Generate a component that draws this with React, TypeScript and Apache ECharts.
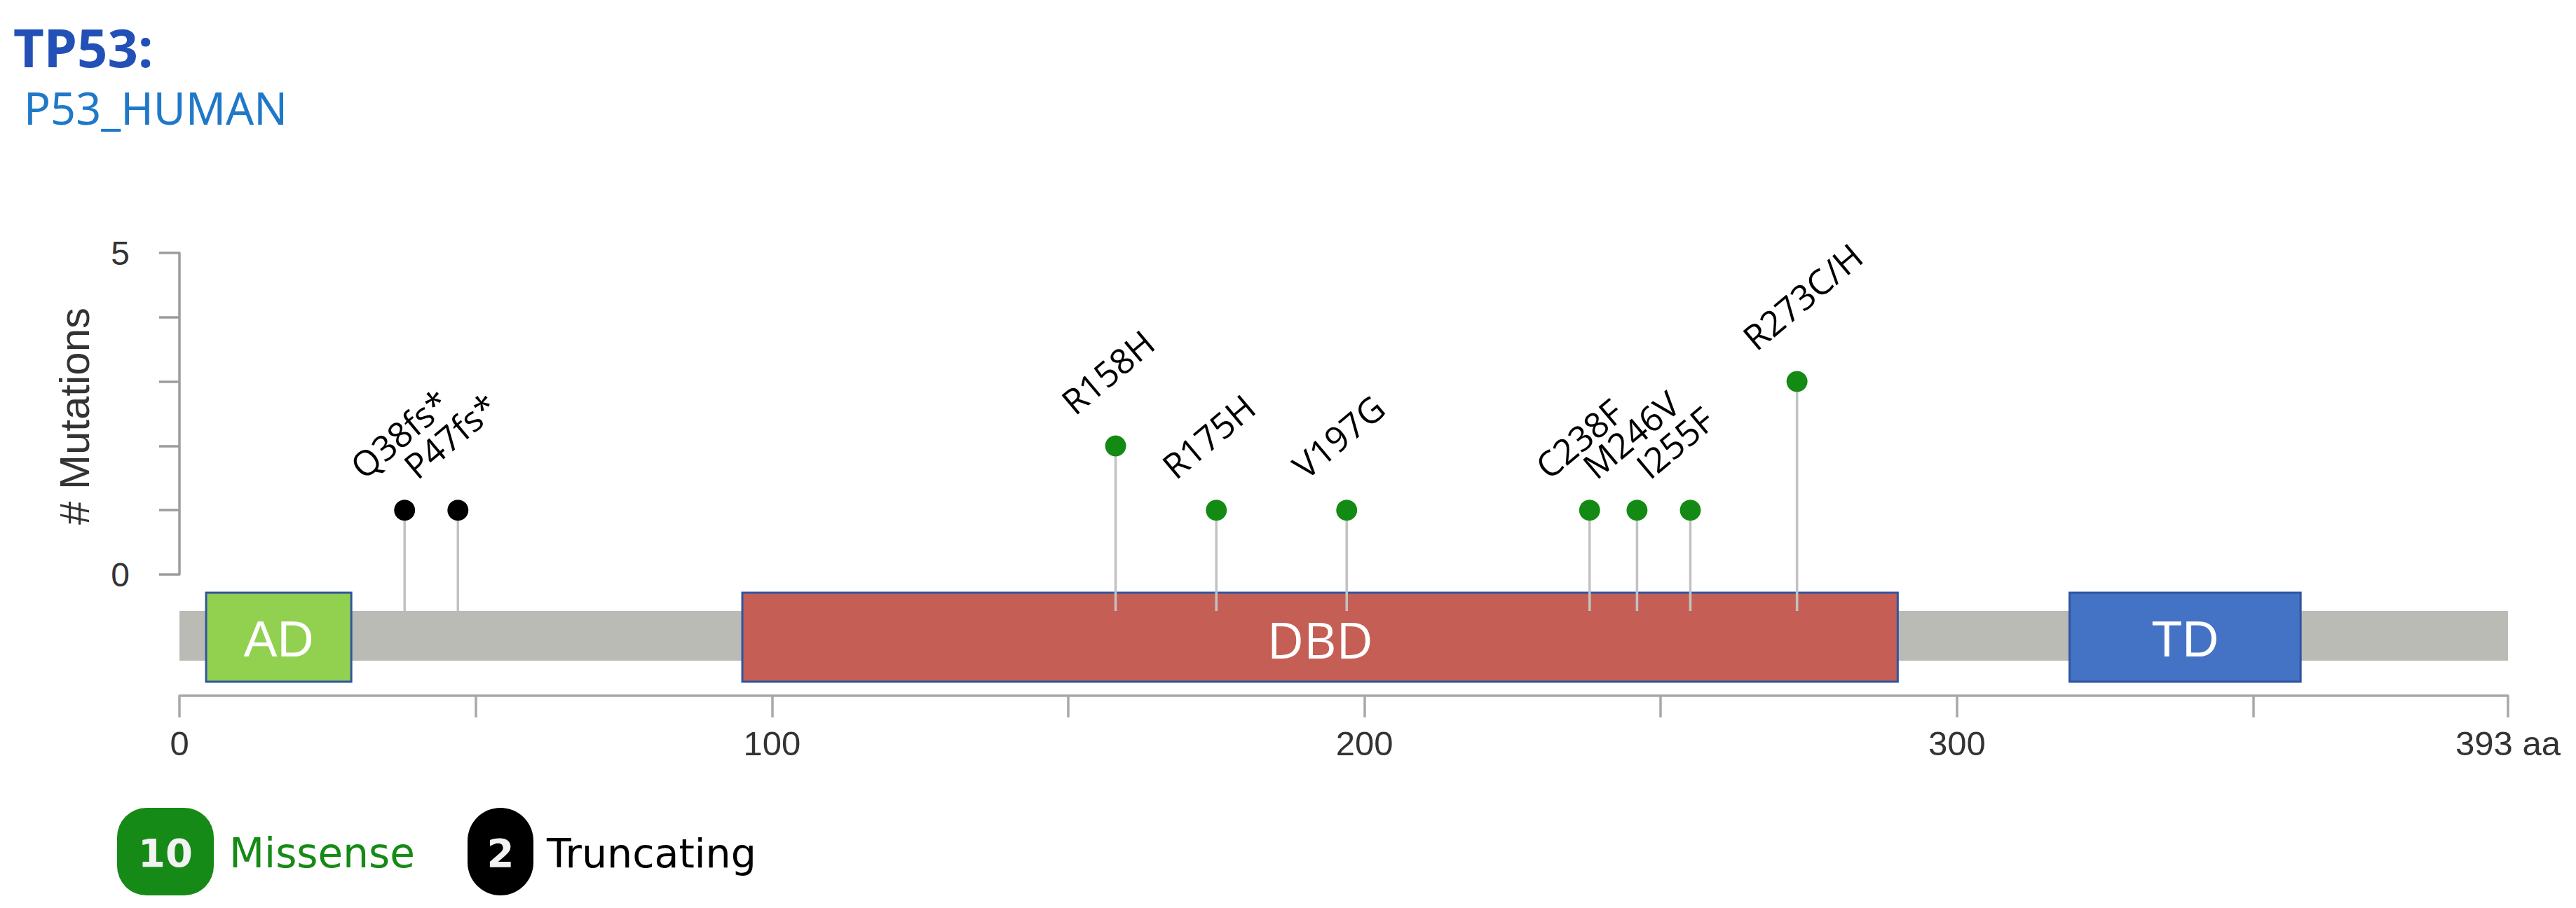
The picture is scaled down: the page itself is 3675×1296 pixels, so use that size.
import React, { useEffect, useRef } from 'react';
import * as echarts from 'echarts';

// ---------- data ----------
const geneTitle = 'TP53:';
const proteinId = 'P53_HUMAN';
const proteinLength = 393;

const mutationLabels = ['Q38fs*', 'P47fs*', 'R158H', 'R175H', 'V197G', 'C238F', 'M246V', 'I255F', 'R273C/H'];
const mutationPositions = [38, 47, 158, 175, 197, 238, 246, 255, 273];
const mutationCounts = [1, 1, 2, 1, 1, 1, 1, 1, 3];
const mutationTypes = ['Truncating', 'Truncating', 'Missense', 'Missense', 'Missense', 'Missense', 'Missense', 'Missense', 'Missense'];

const domainNames = ['AD', 'DBD', 'TD'];
const domainStarts = [4.5, 95, 319];
const domainEnds = [29, 290, 358];

const xTickLabelValues = [0, 100, 200, 300];
const yTickLabelValues = [0, 5];
const yAxisTitle = '# Mutations';
const legendTypes = ['Missense', 'Truncating'];

// ---------- styles ----------
const typeColors: Record<string, string> = { Missense: '#138a13', Truncating: '#000000' };
const legendTextColors: Record<string, string> = { Missense: '#168a16', Truncating: '#000000' };
const domainColors: Record<string, string> = { AD: '#92d050', DBD: '#c55f55', TD: '#4472c4' };
const domainFonts: Record<string, string> = { AD: 'Liberation Sans', DBD: 'Open Sans', TD: 'Liberation Sans' };

const GRID_LEFT = 256;
const GRID_TOP = 361;
const GRID_W = 3322;
const GRID_H = 459;
const BACKBONE_TOP = 52;
const BACKBONE_BOTTOM = 123;
const DOMAIN_TOP = 26;
const DOMAIN_BOTTOM = 153;
const X_AXIS_OFFSET = 173;
const LABEL_ROT = (40 * Math.PI) / 180;

export default function App() {
  const ref = useRef<HTMLDivElement>(null);

  useEffect(() => {
    if (!ref.current) return;
    const chart = echarts.init(ref.current, undefined, { renderer: 'svg' });

    const counts: Record<string, number> = {};
    legendTypes.forEach((t) => (counts[t] = 0));
    mutationTypes.forEach((t, i) => (counts[t] += mutationCounts[i]));

    const scatterSeries = legendTypes.map((t) => ({
      name: t,
      type: 'scatter',
      z: 5,
      symbol: 'circle',
      symbolSize: 30,
      itemStyle: { color: typeColors[t], opacity: 1 },
      data: mutationPositions
        .map((p, i) => ({ p, i }))
        .filter((d) => mutationTypes[d.i] === t)
        .map((d) => [d.p, mutationCounts[d.i]]),
    }));

    const centered = { align: 'center', verticalAlign: 'middle', textAlign: 'center', textVerticalAlign: 'middle' };
    const leftMiddle = { align: 'left', verticalAlign: 'middle', textAlign: 'left', textVerticalAlign: 'middle' };

    const option: any = {
      animation: false,
      backgroundColor: '#ffffff',
      grid: { left: GRID_LEFT, top: GRID_TOP, width: GRID_W, height: GRID_H, containLabel: false },
      xAxis: {
        type: 'value',
        min: 0,
        max: proteinLength,
        interval: 50,
        offset: X_AXIS_OFFSET,
        position: 'bottom',
        splitLine: { show: false },
        axisLine: { show: true, onZero: false, lineStyle: { color: '#a8a8a8', width: 3.5 } },
        axisTick: { show: true, length: 31, lineStyle: { color: '#a8a8a8', width: 3.5 } },
        axisLabel: {
          show: true,
          showMinLabel: true,
          showMaxLabel: true,
          hideOverlap: false,
          margin: 43,
          fontSize: 49,
          fontFamily: 'Liberation Sans',
          color: '#333333',
          formatter: (v: number) =>
            v === proteinLength ? `${proteinLength} aa` : xTickLabelValues.includes(v) ? String(v) : '',
        },
      },
      yAxis: {
        type: 'value',
        min: 0,
        max: 5,
        interval: 1,
        offset: 24,
        splitLine: { show: false },
        axisLine: { show: true, lineStyle: { color: '#9c9c9c', width: 3.5 } },
        axisTick: { show: true, length: 29, lineStyle: { color: '#9c9c9c', width: 3.5 } },
        axisLabel: {
          margin: 47,
          fontSize: 48,
          fontFamily: 'Liberation Sans',
          color: '#333333',
          formatter: (v: number) => (yTickLabelValues.includes(v) ? String(v) : ''),
        },
      },
      series: [
        {
          name: 'Backbone',
          type: 'custom',
          z: 1,
          clip: false,
          data: [[0, proteinLength]],
          renderItem: (params: any, api: any) => {
            const a = api.coord([api.value(0), 0]);
            const b = api.coord([api.value(1), 0]);
            return {
              type: 'rect',
              shape: { x: a[0], y: a[1] + BACKBONE_TOP, width: b[0] - a[0], height: BACKBONE_BOTTOM - BACKBONE_TOP },
              style: { fill: '#babbb5' },
            };
          },
        },
        {
          name: 'Domains',
          type: 'custom',
          z: 2,
          clip: false,
          data: domainNames.map((n, i) => [domainStarts[i], domainEnds[i]]),
          renderItem: (params: any, api: any) => {
            const name = domainNames[params.dataIndex];
            const a = api.coord([api.value(0), 0]);
            const b = api.coord([api.value(1), 0]);
            const y0 = a[1] + DOMAIN_TOP;
            const h = DOMAIN_BOTTOM - DOMAIN_TOP;
            return {
              type: 'group',
              children: [
                {
                  type: 'rect',
                  shape: { x: a[0], y: y0, width: b[0] - a[0], height: h },
                  style: { fill: domainColors[name], stroke: '#2f55a0', lineWidth: 3 },
                },
                {
                  type: 'text',
                  x: (a[0] + b[0]) / 2,
                  y: y0 + h / 2 + 2,
                  style: {
                    text: name,
                    fill: '#ffffff',
                    fontSize: 72,
                    fontFamily: domainFonts[name],
                    ...centered,
                  },
                },
              ],
            };
          },
        },
        {
          name: 'Stems',
          type: 'custom',
          z: 3,
          clip: false,
          data: mutationPositions.map((p, i) => [p, mutationCounts[i]]),
          renderItem: (params: any, api: any) => {
            const top = api.coord([api.value(0), api.value(1)]);
            const base = api.coord([api.value(0), 0]);
            return {
              type: 'group',
              children: [
                {
                  type: 'line',
                  shape: { x1: top[0], y1: base[1] + BACKBONE_TOP, x2: top[0], y2: top[1] },
                  style: { stroke: '#c2c2c2', lineWidth: 3.5 },
                },
                {
                  type: 'text',
                  x: top[0] - 54,
                  y: top[1] - 37,
                  rotation: LABEL_ROT,
                  style: {
                    text: mutationLabels[params.dataIndex],
                    fill: '#000000',
                    fontSize: 50,
                    fontFamily: 'Open Sans',
                    align: 'left',
                    verticalAlign: 'bottom',
                    textAlign: 'left',
                    textVerticalAlign: 'bottom',
                  },
                },
              ],
            };
          },
        },
        ...scatterSeries,
      ],
      graphic: [
        {
          type: 'text',
          left: 19,
          top: 28,
          style: { text: geneTitle, fill: '#2350b6', fontSize: 76, fontWeight: 'bold', fontFamily: 'Noto Sans' },
        },
        {
          type: 'text',
          left: 34,
          top: 122,
          style: { text: proteinId, fill: '#1f78c8', fontSize: 63, fontFamily: 'Noto Sans' },
        },
        {
          type: 'text',
          x: 106,
          y: 594,
          rotation: Math.PI / 2,
          style: { text: yAxisTitle, fill: '#333333', fontSize: 60, fontFamily: 'Liberation Sans', ...centered },
        },
        // legend
        {
          type: 'rect',
          shape: { x: 167, y: 1153, width: 138, height: 125, r: 42 },
          style: { fill: legendTextColors.Missense },
        },
        {
          type: 'text',
          x: 236,
          y: 1217,
          style: {
            text: String(counts.Missense),
            fill: '#f2f2f2',
            fontSize: 56,
            fontWeight: 'bold',
            fontFamily: 'DejaVu Sans',
            ...centered,
          },
        },
        {
          type: 'text',
          x: 327,
          y: 1218,
          style: { text: legendTypes[0], fill: legendTextColors.Missense, fontSize: 58, fontFamily: 'DejaVu Sans', ...leftMiddle },
        },
        {
          type: 'rect',
          shape: { x: 667, y: 1153, width: 94, height: 125, r: 47 },
          style: { fill: '#000000' },
        },
        {
          type: 'text',
          x: 714,
          y: 1217,
          style: {
            text: String(counts.Truncating),
            fill: '#f2f2f2',
            fontSize: 56,
            fontWeight: 'bold',
            fontFamily: 'DejaVu Sans',
            ...centered,
          },
        },
        {
          type: 'text',
          x: 780,
          y: 1218,
          style: { text: legendTypes[1], fill: legendTextColors.Truncating, fontSize: 57, fontFamily: 'DejaVu Sans', ...leftMiddle },
        },
      ],
    };

    chart.setOption(option);
    return () => chart.dispose();
  }, []);

  return (
    <div
      ref={ref}
      style={{ position: 'fixed', left: 0, top: 0, width: 3675, height: 1296, background: '#fff' }}
    />
  );
}
